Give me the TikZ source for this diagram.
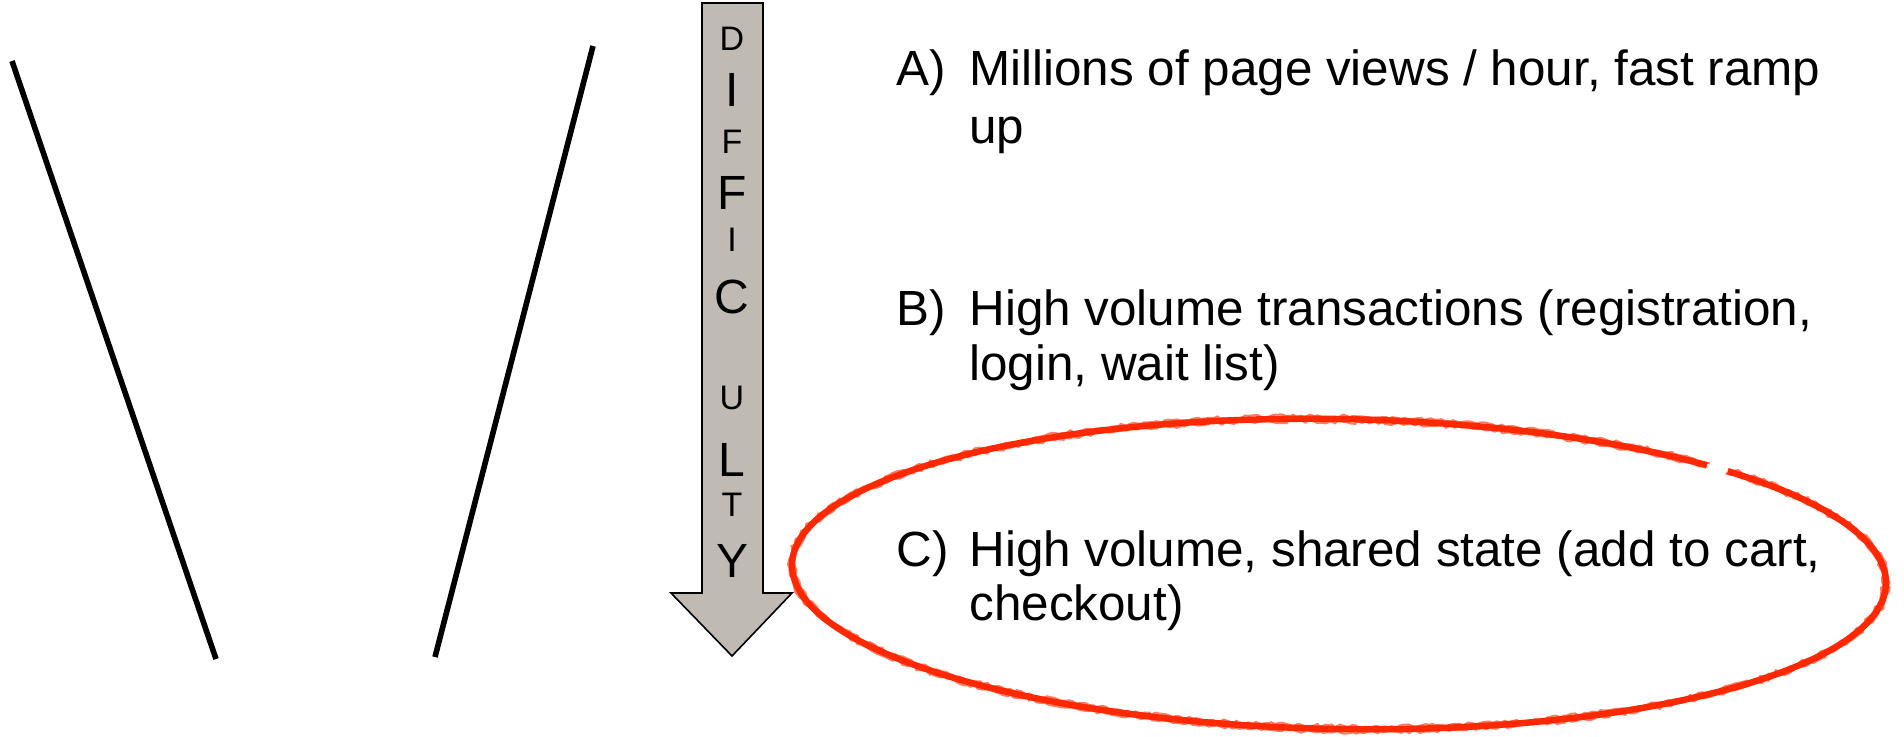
\documentclass[tikz,border=0pt]{standalone}
\usepackage{fontspec}
\setmainfont{Liberation Sans}
\usetikzlibrary{decorations.pathmorphing}
\definecolor{shaftgray}{RGB}{191,187,180}
\definecolor{markred}{RGB}{255,40,0}
\tikzset{
  item/.style={anchor=base west, inner sep=0pt, font=\fontsize{24.7}{28}\selectfont},
  biglet/.style={anchor=base, inner sep=0pt, font=\fontsize{24}{28}\selectfont},
  smalllet/.style={anchor=base, inner sep=0pt, font=\fontsize{17}{20}\selectfont},
  funnel/.style={line width=2.8pt, black},
  marker/.style={markred, line width=3.2pt},
  rough/.style={markred, line width=1pt, opacity=0.6,
    decorate, decoration={random steps, segment length=2pt, amplitude=0.8pt}}
}
\begin{document}
\begin{tikzpicture}[x=0.5pt, y=-0.5pt]
\useasboundingbox (0,0) rectangle (1904,736);

% funnel sides
\coordinate (l1) at (12,61);
\coordinate (l2) at (216,659);
\coordinate (r1) at (593,46);
\coordinate (r2) at (435,657);
\draw[funnel] (l1) -- (l2);
\draw[funnel] (r1) -- (r2);

% difficulty arrow
\draw[fill=shaftgray, line width=0.8pt, line join=miter]
  (702,3) -- (763,3) -- (763,593) -- (792,593) -- (732,656)
  -- (671,593) -- (702,593) -- cycle;
\node[smalllet] (d1) at (732,50) {D};
\node[biglet]   (d2) at (732,106) {I};
\node[smalllet] (d3) at (732,153) {F};
\node[biglet]   (d4) at (732,209) {F};
\node[smalllet] (d5) at (732,251) {I};
\node[biglet]   (d6) at (732,313) {C};
\node[smalllet] (d7) at (732,409) {U};
\node[biglet]   (d8) at (732,476) {L};
\node[smalllet] (d9) at (732,516) {T};
\node[biglet]   (d10) at (732,577) {Y};

% list of cases
\node[item] (la) at (896,85) {A)};
\node[item] (ta1) at (969,85) {Millions of page views / hour, fast ramp};
\node[item] (ta2) at (969,143) {up};
\node[item] (lb) at (896,325) {B)};
\node[item] (tb1) at (969,325) {High volume transactions (registration,};
\node[item] (tb2) at (969,380) {login, wait list)};
\node[item] (lc) at (896,566) {C)};
\node[item] (tc1) at (969,566) {High volume, shared state (add to cart,};
\node[item] (tc2) at (969,620) {checkout)};

% hand-drawn marker ellipse round case C
\coordinate (c) at (1339,574);
\begin{scope}[rotate around={-1:(c)}]
  \draw[marker] (c) ++(-45:547 and 155) arc[start angle=-45, end angle=312, x radius=547, y radius=155];
  \draw[rough] (c) ++(-45:550 and 158) arc[start angle=-45, end angle=312, x radius=550, y radius=158];
  \draw[rough] (c) ++(-45:544 and 152) arc[start angle=-45, end angle=312, x radius=544, y radius=152];
\end{scope}
\end{tikzpicture}
\end{document}
